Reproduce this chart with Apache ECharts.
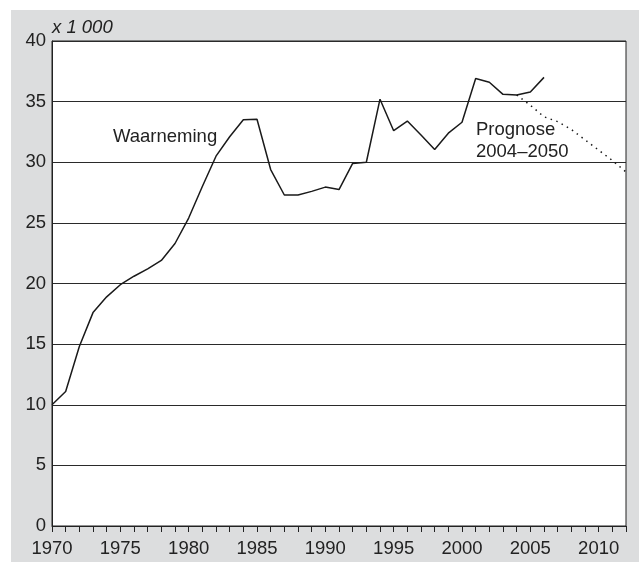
<!DOCTYPE html>
<html>
<head>
<meta charset="utf-8">
<title>Waarneming en prognose</title>
<script src="https://cdn.jsdelivr.net/npm/echarts@6/dist/echarts.min.js"></script>
<style>
  html, body { margin: 0; padding: 0; background: #fff; }
  #chart {
    position: absolute;
    left: 11px;
    top: 10px;
    width: 628px;
    height: 552px;
  }
</style>
</head>
<body>
<div id="chart"></div>
<script>
// waarneming (observed), x 1 000
const obsYears = [1970, 1971, 1972, 1973, 1974, 1975, 1976, 1977, 1978, 1979,
  1980, 1981, 1982, 1983, 1984, 1985, 1986, 1987, 1988, 1989,
  1990, 1991, 1992, 1993, 1994, 1995, 1996, 1997, 1998, 1999,
  2000, 2001, 2002, 2003, 2004, 2005, 2006];
const obsValues = [10.0, 11.1, 14.8, 17.6, 18.9, 19.9, 20.6, 21.2, 21.9, 23.3,
  25.4, 28.0, 30.5, 32.1, 33.5, 33.55, 29.4, 27.3, 27.3, 27.6,
  27.95, 27.75, 29.9, 30.0, 35.2, 32.6, 33.4, 32.25, 31.05, 32.4,
  33.3, 36.9, 36.6, 35.6, 35.55, 35.8, 37.0];

// prognose 2004-2050 (only visible part up to 2012)
const progYears = [2004, 2005, 2006, 2007, 2008, 2009, 2010, 2011, 2012];
const progValues = [35.55, 34.7, 33.75, 33.35, 32.7, 31.85, 31.0, 30.15, 29.2];

const yearLabels = [1970, 1975, 1980, 1985, 1990, 1995, 2000, 2005, 2010];

const FONT = '"Liberation Sans", Arial, sans-serif';
const TEXT_COLOR = '#222';

const myChart = echarts.init(document.getElementById('chart'));

const chartOption = {
  backgroundColor: '#dcddde',
  animation: false,
  textStyle: { fontFamily: FONT },
  grid: {
    left: 41,
    right: 13,
    top: 31,
    bottom: 36,
    show: true,
    backgroundColor: '#fff',
    borderColor: '#222',
    borderWidth: 1
  },
  xAxis: {
    type: 'value',
    min: 1970,
    max: 2012,
    interval: 1,
    axisLine: { show: true, lineStyle: { color: '#222', width: 1 } },
    axisTick: { show: true, length: 6, lineStyle: { color: '#222', width: 1 } },
    splitLine: { show: false },
    axisLabel: {
      color: TEXT_COLOR,
      fontSize: 18.5,
      fontFamily: FONT,
      margin: 13,
      formatter: function (v) {
        return yearLabels.indexOf(v) >= 0 ? String(v) : '';
      }
    }
  },
  yAxis: {
    type: 'value',
    min: 0,
    max: 40,
    interval: 5,
    axisLine: { show: true, lineStyle: { color: '#222', width: 1 } },
    axisTick: { show: false },
    splitLine: { show: true, lineStyle: { color: '#2a2a2a', width: 1 } },
    axisLabel: {
      color: TEXT_COLOR,
      fontSize: 18.5,
      fontFamily: FONT,
      margin: 6
    }
  },
  graphic: [
    {
      type: 'text',
      left: 41,
      top: 8,
      style: {
        text: 'x 1 000',
        fontSize: 18.5,
        fontStyle: 'italic',
        fontFamily: FONT,
        fill: TEXT_COLOR
      }
    },
    {
      type: 'text',
      left: 102,
      top: 117,
      style: {
        text: 'Waarneming',
        fontSize: 18.5,
        fontFamily: FONT,
        fill: TEXT_COLOR
      }
    },
    {
      type: 'text',
      left: 465,
      top: 109,
      style: {
        text: 'Prognose\n2004\u20132050',
        fontSize: 18.5,
        lineHeight: 22,
        fontFamily: FONT,
        fill: TEXT_COLOR
      }
    }
  ],
  series: [
    {
      name: 'Waarneming',
      type: 'line',
      data: obsYears.map((y, i) => [y, obsValues[i]]),
      symbol: 'none',
      lineStyle: { color: '#1a1a1a', width: 1.5 },
      z: 3
    },
    {
      name: 'Prognose',
      type: 'line',
      data: progYears.map((y, i) => [y, progValues[i]]),
      symbol: 'none',
      lineStyle: { color: '#1a1a1a', width: 1.5, type: [1.5, 4.5] },
      z: 2
    }
  ]
};

myChart.setOption(chartOption);
</script>
</body>
</html>
